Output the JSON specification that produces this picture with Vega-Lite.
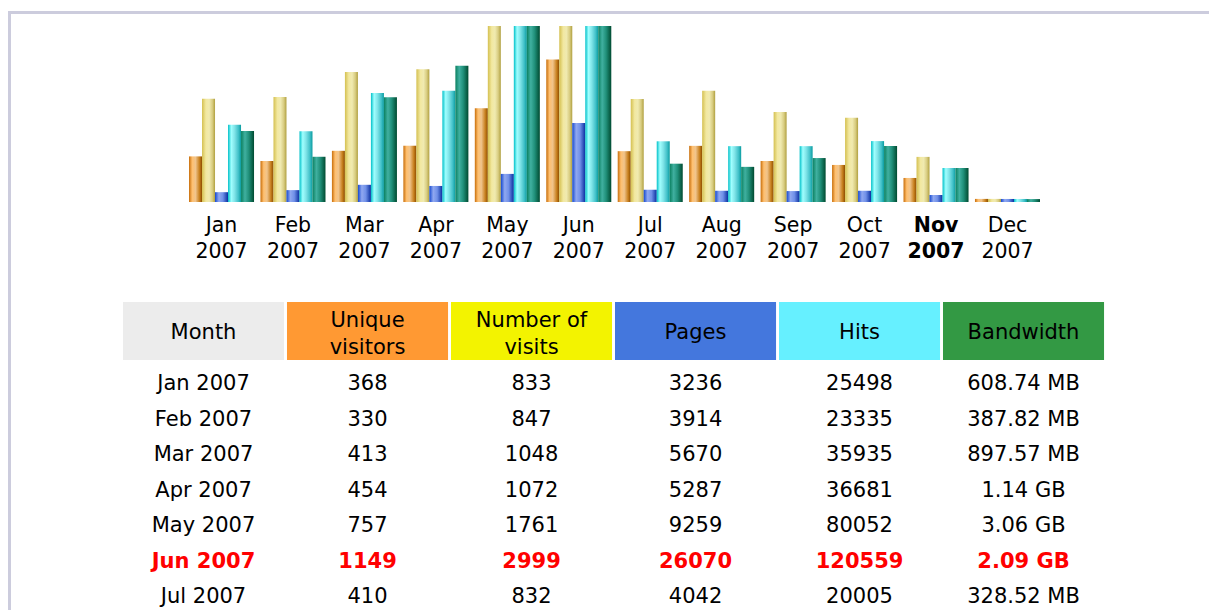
{
  "$schema": "https://vega.github.io/schema/vega-lite/v6.json",
  "padding": {"left": 8, "top": 11, "right": 0, "bottom": 0},
  "background": "white",
  "config": {"view": {"stroke": null}, "font": "DejaVu Sans"},
  "datasets": {
    "months": [
      {"month": "Jan 2007", "visitors": 368, "visits": 833, "pages": 3236, "hits": 25498, "bandwidth": "608.74 MB", "bandwidth_mb": 608.74},
      {"month": "Feb 2007", "visitors": 330, "visits": 847, "pages": 3914, "hits": 23335, "bandwidth": "387.82 MB", "bandwidth_mb": 387.82},
      {"month": "Mar 2007", "visitors": 413, "visits": 1048, "pages": 5670, "hits": 35935, "bandwidth": "897.57 MB", "bandwidth_mb": 897.57},
      {"month": "Apr 2007", "visitors": 454, "visits": 1072, "pages": 5287, "hits": 36681, "bandwidth": "1.14 GB", "bandwidth_mb": 1167.36},
      {"month": "May 2007", "visitors": 757, "visits": 1761, "pages": 9259, "hits": 80052, "bandwidth": "3.06 GB", "bandwidth_mb": 3133.44},
      {"month": "Jun 2007", "visitors": 1149, "visits": 2999, "pages": 26070, "hits": 120559, "bandwidth": "2.09 GB", "bandwidth_mb": 2140.16},
      {"month": "Jul 2007", "visitors": 410, "visits": 832, "pages": 4042, "hits": 20005, "bandwidth": "328.52 MB", "bandwidth_mb": 328.52},
      {"month": "Aug 2007", "visitors": 453, "visits": 897, "pages": 3700, "hits": 18400, "bandwidth": "301.35 MB", "bandwidth_mb": 301.35},
      {"month": "Sep 2007", "visitors": 331, "visits": 727, "pages": 3600, "hits": 18400, "bandwidth": "376.88 MB", "bandwidth_mb": 376.88},
      {"month": "Oct 2007", "visitors": 299, "visits": 679, "pages": 3700, "hits": 20070, "bandwidth": "480.21 MB", "bandwidth_mb": 480.21},
      {"month": "Nov 2007", "visitors": 194, "visits": 364, "pages": 2300, "hits": 11200, "bandwidth": "291.67 MB", "bandwidth_mb": 291.67},
      {"month": "Dec 2007", "visitors": 25, "visits": 25, "pages": 1000, "hits": 1000, "bandwidth": "25.00 MB", "bandwidth_mb": 25}
    ],
    "header": [
      {"col": "month", "label": ["Month"]},
      {"col": "visitors", "label": ["Unique", "visitors"]},
      {"col": "visits", "label": ["Number of", "visits"]},
      {"col": "pages", "label": ["Pages"]},
      {"col": "hits", "label": ["Hits"]},
      {"col": "bandwidth", "label": ["Bandwidth"]}
    ]
  },
  "spacing": 0,
  "bounds": "flush",
  "hconcat": [
    {"width": 3, "height": 599, "view": {"fill": "#ccccdd", "stroke": null}, "data": {"values": []}, "mark": "point"},
    {
      "spacing": 0,
      "bounds": "flush",
      "vconcat": [
        {"width": 1198, "height": 3, "view": {"fill": "#ccccdd", "stroke": null}, "data": {"values": []}, "mark": "point"},
        {"width": 1198, "height": 12, "data": {"values": []}, "mark": "point"},
        {
          "width": 1198,
          "height": 176,
          "data": {"name": "months"},
          "encoding": {
            "x": {
              "field": "month", "type": "nominal", "sort": null,
              "scale": {"type": "band", "range": [174.8, 1032.2], "paddingInner": 0.09, "paddingOuter": 0.045},
              "axis": {
                "title": null, "ticks": false, "domain": false, "labelAngle": 0,
                "labelExpr": "split(datum.label, ' ')",
                "labelFontSize": 20.5, "labelLineHeight": 26, "labelPadding": 13,
                "labelColor": "#000000", "labelOverlap": false, "labelBaseline": "top",
                "labelFontWeight": {"condition": {"test": "datum.value == 'Nov 2007'", "value": "bold"}, "value": "normal"}
              }
            }
          },
          "layer": [
            {
              "mark": {"type": "bar", "color": {"gradient": "linear", "x1": 0, "x2": 1, "y1": 0, "y2": 0, "stops": [
                {"offset": 0, "color": "#c86e0a"}, {"offset": 0.25, "color": "#ffc070"}, {"offset": 0.5, "color": "#f0c48c"}, {"offset": 0.8, "color": "#c8801e"}, {"offset": 1, "color": "#8c4c00"}]}},
              "encoding": {
                "xOffset": {"datum": "visitors", "type": "nominal", "scale": {"domain": ["visitors", "visits", "pages", "hits", "bandwidth"], "paddingInner": 0, "paddingOuter": 0}},
                "y": {"field": "visitors", "type": "quantitative", "scale": {"domain": [0, 1420], "clamp": true, "nice": false}, "axis": null}
              }
            },
            {
              "mark": {"type": "bar", "color": {"gradient": "linear", "x1": 0, "x2": 1, "y1": 0, "y2": 0, "stops": [
                {"offset": 0, "color": "#d4c050"}, {"offset": 0.3, "color": "#f2e8a0"}, {"offset": 0.55, "color": "#f0eab0"}, {"offset": 0.8, "color": "#d8cc80"}, {"offset": 1, "color": "#b0a040"}]}},
              "encoding": {
                "xOffset": {"datum": "visits", "type": "nominal", "scale": {"domain": ["visitors", "visits", "pages", "hits", "bandwidth"], "paddingInner": 0, "paddingOuter": 0}},
                "y": {"field": "visits", "type": "quantitative", "scale": {"domain": [0, 1420], "clamp": true, "nice": false}, "axis": null}
              }
            },
            {
              "mark": {"type": "bar", "color": {"gradient": "linear", "x1": 0, "x2": 1, "y1": 0, "y2": 0, "stops": [
                {"offset": 0, "color": "#1448d0"}, {"offset": 0.3, "color": "#90a8f0"}, {"offset": 0.6, "color": "#7090e8"}, {"offset": 1, "color": "#0a2ea0"}]}},
              "encoding": {
                "xOffset": {"datum": "pages", "type": "nominal", "scale": {"domain": ["visitors", "visits", "pages", "hits", "bandwidth"], "paddingInner": 0, "paddingOuter": 0}},
                "y": {"field": "pages", "type": "quantitative", "scale": {"domain": [0, 58000], "clamp": true, "nice": false}, "axis": null}
              }
            },
            {
              "mark": {"type": "bar", "color": {"gradient": "linear", "x1": 0, "x2": 1, "y1": 0, "y2": 0, "stops": [
                {"offset": 0, "color": "#00c0c8"}, {"offset": 0.25, "color": "#a0ffff"}, {"offset": 0.5, "color": "#80e4e8"}, {"offset": 0.8, "color": "#40c0c8"}, {"offset": 1, "color": "#0a9ca0"}]}},
              "encoding": {
                "xOffset": {"datum": "hits", "type": "nominal", "scale": {"domain": ["visitors", "visits", "pages", "hits", "bandwidth"], "paddingInner": 0, "paddingOuter": 0}},
                "y": {"field": "hits", "type": "quantitative", "scale": {"domain": [0, 58000], "clamp": true, "nice": false}, "axis": null}
              }
            },
            {
              "mark": {"type": "bar", "color": {"gradient": "linear", "x1": 0, "x2": 1, "y1": 0, "y2": 0, "stops": [
                {"offset": 0, "color": "#0a8060"}, {"offset": 0.3, "color": "#40b0a0"}, {"offset": 0.6, "color": "#20907a"}, {"offset": 1, "color": "#004a30"}]}},
              "encoding": {
                "xOffset": {"datum": "bandwidth", "type": "nominal", "scale": {"domain": ["visitors", "visits", "pages", "hits", "bandwidth"], "paddingInner": 0, "paddingOuter": 0}},
                "y": {"field": "bandwidth_mb", "type": "quantitative", "scale": {"domain": [0, 1509], "clamp": true, "nice": false}, "axis": null}
              }
            }
          ],
          "resolve": {"scale": {"y": "independent"}}
        },
        {"width": 1198, "height": 100, "data": {"values": []}, "mark": "point"},
        {
          "width": 1198,
          "height": 58,
          "data": {"name": "header"},
          "encoding": {
            "x": {"field": "col", "type": "nominal", "scale": {"type": "band", "domain": ["month", "visitors", "visits", "pages", "hits", "bandwidth"], "paddingInner": 0.018, "paddingOuter": 0.6614, "align": 0.5162}, "axis": null}
          },
          "layer": [
            {
              "mark": {"type": "rect"},
              "encoding": {
                "color": {"field": "col", "type": "nominal", "scale": {"domain": ["month", "visitors", "visits", "pages", "hits", "bandwidth"], "range": ["#ececec", "#ff9933", "#f3f300", "#4477dd", "#66f0ff", "#339944"]}, "legend": null}
              }
            },
            {
              "transform": [{"filter": "length(datum.label) == 1"}],
              "mark": {"type": "text", "fontSize": 21, "lineHeight": 27, "baseline": "middle", "dy": 2, "color": "#000000"},
              "encoding": {"text": {"field": "label", "type": "nominal"}}
            },
            {
              "transform": [{"filter": "length(datum.label) == 2"}],
              "mark": {"type": "text", "fontSize": 21, "lineHeight": 27, "baseline": "middle", "dy": -10, "color": "#000000"},
              "encoding": {"text": {"field": "label", "type": "nominal"}}
            }
          ],
          "resolve": {"scale": {"color": "independent"}}
        },
        {
          "width": 1198,
          "height": 250,
          "data": {"name": "months"},
          "transform": [{"fold": ["month", "visitors", "visits", "pages", "hits", "bandwidth"], "as": ["col", "val"]}],
          "encoding": {
            "x": {"field": "col", "type": "nominal", "scale": {"type": "band", "domain": ["month", "visitors", "visits", "pages", "hits", "bandwidth"], "paddingInner": 0.018, "paddingOuter": 0.6614, "align": 0.5162}, "axis": null},
            "y": {"field": "month", "type": "nominal", "scale": {"type": "band", "domain": ["Jan 2007", "Feb 2007", "Mar 2007", "Apr 2007", "May 2007", "Jun 2007", "Jul 2007", "Aug 2007", "Sep 2007", "Oct 2007", "Nov 2007", "Dec 2007"], "range": [6.25, 432.25], "paddingInner": 0, "paddingOuter": 0}, "axis": null},
            "text": {"field": "val", "type": "nominal"}
          },
          "layer": [
            {
              "transform": [{"filter": "datum.month != 'Jun 2007'"}],
              "mark": {"type": "text", "fontSize": 21, "baseline": "middle", "color": "#000000", "clip": true}
            },
            {
              "transform": [{"filter": "datum.month == 'Jun 2007'"}],
              "mark": {"type": "text", "fontSize": 21, "fontWeight": "bold", "baseline": "middle", "color": "#ff0000", "clip": true}
            }
          ]
        }
      ]
    }
  ]
}
